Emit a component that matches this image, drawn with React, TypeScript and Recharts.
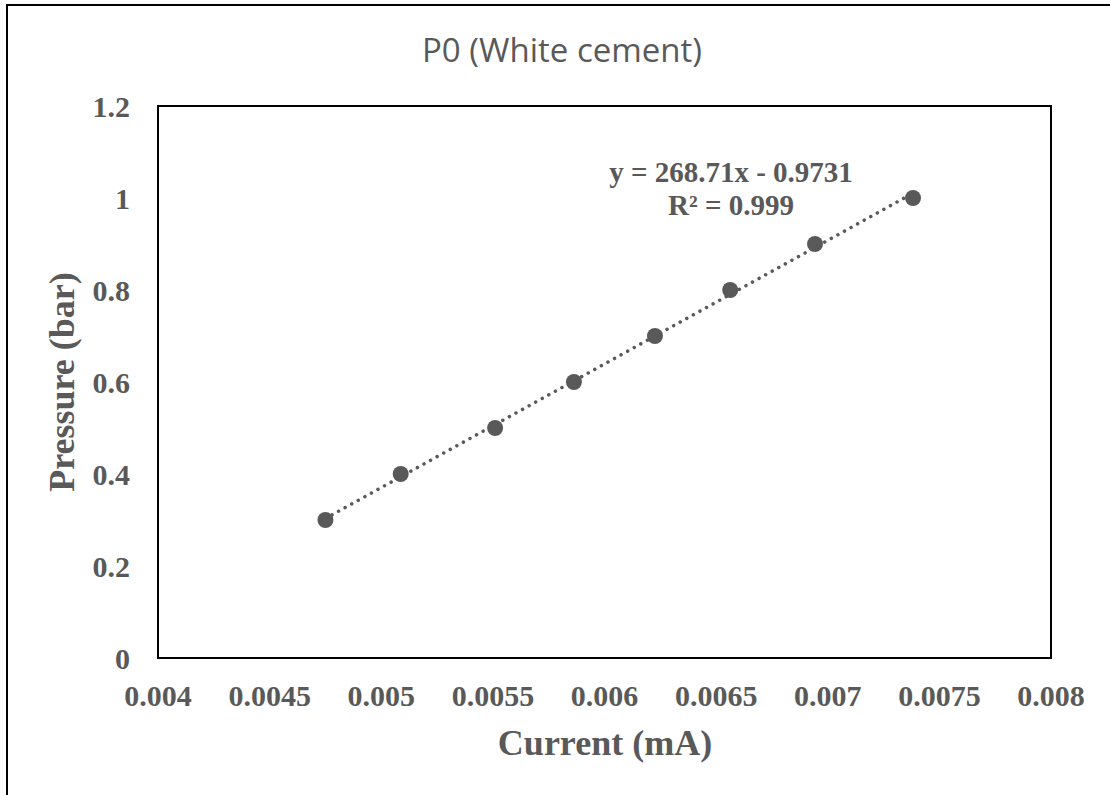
import {
  ScatterChart, Scatter, XAxis, YAxis, ReferenceArea,
} from 'recharts'

// calibration readings: sensor current (mA) vs applied pressure (bar)
const currentMA = [0.00475, 0.005087, 0.00551, 0.005863, 0.006226, 0.006563, 0.006943, 0.007382]
const pressureBar = [0.3, 0.4, 0.5, 0.6, 0.7, 0.8, 0.9, 1.0]

const xTicks = [0.004, 0.0045, 0.005, 0.0055, 0.006, 0.0065, 0.007, 0.0075, 0.008]
const yTicks = [0, 0.2, 0.4, 0.6, 0.8, 1, 1.2]

// linear fit y = slope * x + intercept
const slope = 268.71
const intercept = -0.9731
const rSquared = 0.999

const GREY = '#595959'
const W = 1110
const H = 795

const points = currentMA.map((x, i) => ({ x, y: pressureBar[i] }))
const xMin = Math.min(...currentMA)
const xMax = Math.max(...currentMA)
const trend = [xMin, xMax].map((x) => ({ x, y: slope * x + intercept }))

const tickStyle = {
  fill: GREY,
  fontFamily: '"Liberation Serif", "Times New Roman", serif',
  fontWeight: 700,
  fontSize: 30,
}

function Dot(props: any) {
  return <circle cx={props.cx} cy={props.cy} r={8} fill={GREY} />
}

function NoShape() {
  return <g />
}

export default function App() {
  const serif = '"Liberation Serif", "Times New Roman", serif'
  return (
    <div style={{ position: 'absolute', left: 0, top: 0, width: W, height: H, background: '#fff', overflow: 'hidden' }}>
      <ScatterChart width={W} height={H} margin={{ top: 106, right: 59, bottom: 0, left: 0 }}>
        <XAxis
          type="number"
          dataKey="x"
          domain={[0.004, 0.008]}
          ticks={xTicks}
          tickFormatter={(v: number) => String(+v.toFixed(4))}
          tick={tickStyle}
          tickLine={false}
          tickSize={0}
          tickMargin={27}
          axisLine={{ stroke: '#000', strokeWidth: 2 }}
          height={137}
          interval={0}
        />
        <YAxis
          type="number"
          dataKey="y"
          domain={[0, 1.2]}
          ticks={yTicks}
          tickFormatter={(v: number) => String(+v.toFixed(1))}
          tick={tickStyle}
          tickLine={false}
          tickSize={0}
          tickMargin={28}
          axisLine={{ stroke: '#000', strokeWidth: 2 }}
          width={158}
          interval={0}
        />
        <ReferenceArea x1={0.004} x2={0.008} y1={0} y2={1.2} fill="none" stroke="#000" strokeWidth={2} ifOverflow="visible" />
        <Scatter
          data={trend}
          line={{ stroke: GREY, strokeWidth: 3.5, strokeDasharray: '0.01 7.5', strokeLinecap: 'round' }}
          shape={NoShape}
          isAnimationActive={false}
        />
        <Scatter data={points} shape={Dot} isAnimationActive={false} />
      </ScatterChart>
      <svg width={W} height={H} style={{ position: 'absolute', left: 0, top: 0, pointerEvents: 'none' }}>
        <line x1={6} y1={5} x2={W} y2={5} stroke="#000" strokeWidth={2} />
        <line x1={7} y1={4} x2={7} y2={H} stroke="#000" strokeWidth={2} />
        <text x={562} y={62} textAnchor="middle" fill={GREY} fontFamily='"Open Sans", sans-serif' fontSize={33}>
          P0 (White cement)
        </text>
        <text x={731} y={182} textAnchor="middle" fill={GREY} fontFamily={serif} fontWeight={700} fontSize={29}>
          {`y = ${slope}x - ${Math.abs(intercept)}`}
        </text>
        <text x={731} y={215} textAnchor="middle" fill={GREY} fontFamily={serif} fontWeight={700} fontSize={29}>
          {`R² = ${rSquared}`}
        </text>
        <text x={605} y={755} textAnchor="middle" fill={GREY} fontFamily={serif} fontWeight={700} fontSize={36}>
          Current (mA)
        </text>
        <text
          x={0}
          y={0}
          transform="translate(74 382) rotate(-90)"
          textAnchor="middle"
          fill={GREY}
          fontFamily={serif}
          fontWeight={700}
          fontSize={36}
        >
          Pressure (bar)
        </text>
      </svg>
    </div>
  )
}
